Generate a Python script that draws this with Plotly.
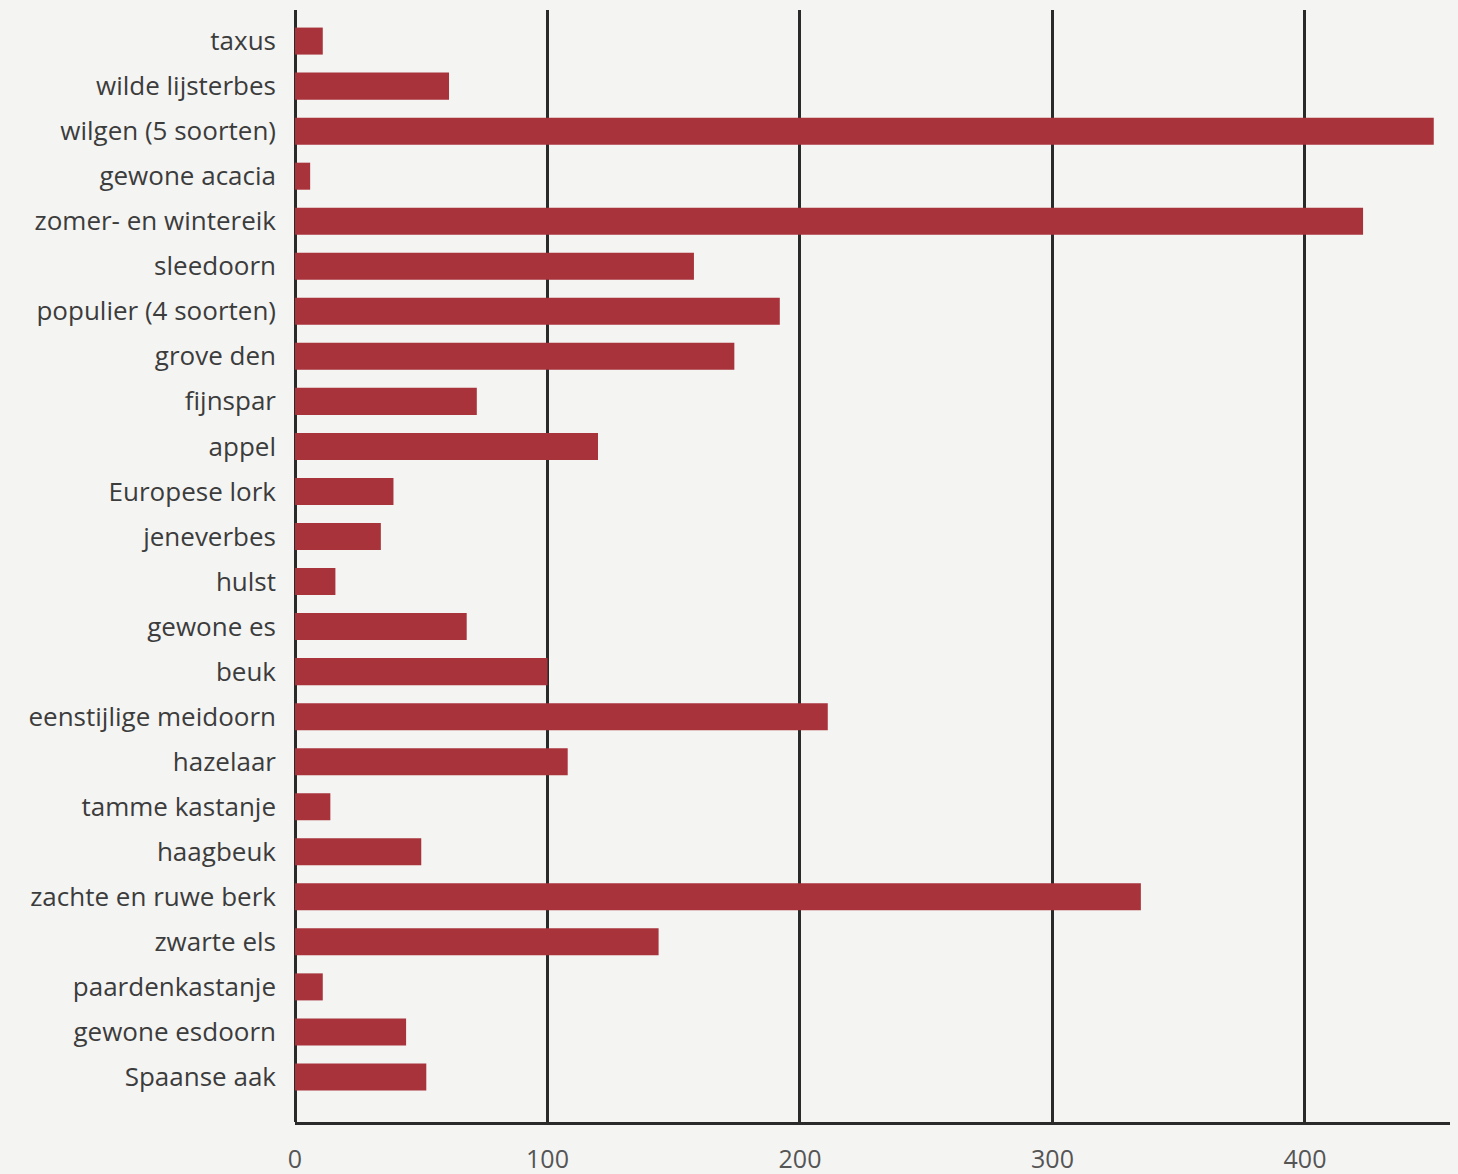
import plotly.graph_objects as go

categories = ["taxus", "wilde lijsterbes", "wilgen (5 soorten)", "gewone acacia",
              "zomer- en wintereik", "sleedoorn", "populier (4 soorten)", "grove den",
              "fijnspar", "appel", "Europese lork", "jeneverbes", "hulst", "gewone es",
              "beuk", "eenstijlige meidoorn", "hazelaar", "tamme kastanje", "haagbeuk",
              "zachte en ruwe berk", "zwarte els", "paardenkastanje", "gewone esdoorn",
              "Spaanse aak"]
values = [11, 61, 451, 6, 423, 158, 192, 174, 72, 120, 39, 34, 16, 68, 100, 211,
          108, 14, 50, 335, 144, 11, 44, 52]
x_ticks = [0, 100, 200, 300, 400]

BG = "#f4f4f3"

fig = go.Figure(go.Bar(
    y=categories, x=values, orientation="h",
    marker=dict(color="#a8333a", line=dict(width=0)),
    width=0.6,
))

fig.update_layout(
    width=1450, height=1166,
    margin=dict(l=287, r=0, t=2, b=52),
    paper_bgcolor=BG, plot_bgcolor=BG,
    showlegend=False,
    font=dict(family="Open Sans", color="#3c3c3c"),
)
fig.update_xaxes(
    range=[0, 460.6], tickvals=x_ticks, showgrid=True, gridcolor="#2a2a2a", gridwidth=2.5,
    zeroline=True, zerolinecolor="#2a2a2a", zerolinewidth=2.5,
    showline=True, linecolor="#2a2a2a", linewidth=3,
    ticks="", ticklabelstandoff=13, tickfont=dict(size=25, color="#555"),
    layer="above traces",
)
fig.update_yaxes(
    type="category", categoryorder="array", categoryarray=categories,
    range=[24, -0.69], showgrid=False, zeroline=False, showline=False,
    ticks="", ticklabelstandoff=18, tickfont=dict(size=26, color="#3c3c3c"),
)

fig.write_html("out.html", post_script="document.body.style.background='%s';" % BG)
